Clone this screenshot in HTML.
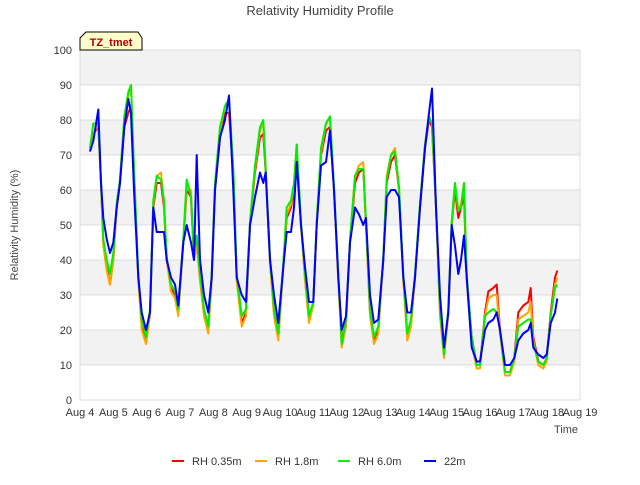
<!DOCTYPE html>
<html><head><meta charset="utf-8"><style>
body{margin:0;background:#fff;font-family:"Liberation Sans",sans-serif}
</style></head><body>
<svg id="chart" width="640" height="480" xmlns="http://www.w3.org/2000/svg" font-family="Liberation Sans, sans-serif">
<rect width="640" height="480" fill="#fff"/>
<g id="bands"></g>
<g id="grid"></g>
<g id="series"></g>
<g id="axes"></g>
<text x="320" y="15" text-anchor="middle" font-size="13" fill="#444">Relativity Humidity Profile</text>
<text x="18" y="225" text-anchor="middle" font-size="11" fill="#444" transform="rotate(-90 18 225)">Relativity Humidity (%)</text>
<text x="566" y="433" text-anchor="middle" font-size="11" fill="#444">Time</text>
<g>
<path d="M80,50 L80,38 L86,32 L138,32 L142,38 L142,50 Z" fill="#ffffcc" stroke="#000" stroke-width="1"/>
<text x="111" y="46" text-anchor="middle" font-size="11" font-weight="bold" fill="#aa0000">TZ_tmet</text>
</g>
<g id="legend"></g>
</svg>
<script>
const times=[0.3,0.4,0.55,0.63,0.7,0.8,0.9,1.0,1.1,1.2,1.33,1.45,1.53,1.62,1.75,1.85,1.98,2.1,2.2,2.3,2.43,2.52,2.6,2.73,2.85,2.95,3.1,3.2,3.33,3.42,3.5,3.6,3.72,3.85,3.95,4.05,4.2,4.35,4.47,4.6,4.7,4.85,4.98,5.1,5.25,5.4,5.5,5.57,5.7,5.82,5.95,6.1,6.2,6.33,6.42,6.5,6.63,6.75,6.87,7.0,7.1,7.23,7.38,7.5,7.62,7.75,7.85,7.98,8.1,8.25,8.37,8.5,8.58,8.7,8.82,8.95,9.1,9.2,9.33,9.45,9.57,9.7,9.82,9.93,10.05,10.2,10.35,10.47,10.56,10.68,10.8,10.92,11.05,11.15,11.25,11.35,11.43,11.52,11.6,11.75,11.9,12.0,12.15,12.25,12.4,12.5,12.6,12.75,12.9,13.03,13.15,13.3,13.45,13.52,13.6,13.75,13.9,14.0,14.12,14.25,14.32];
const rh035=[71,76,78,62,45,38,33,40,55,62,78,82,84,65,35,22,17,25,55,62,62,55,40,32,30,25,45,60,58,40,45,35,25,20,35,60,75,82,82,65,35,22,25,50,65,75,76,65,40,25,18,38,52,55,60,72,50,35,23,28,50,70,77,78,60,35,17,22,45,62,65,66,50,25,17,20,40,62,68,70,60,35,18,22,35,55,72,80,78,55,25,13,25,50,60,52,55,58,35,18,10,10,25,31,32,33,20,8,8,12,25,27,28,32,18,11,10,12,25,35,37];
const rh18=[71,76,79,62,44,37,33,40,56,63,80,87,90,66,34,20,16,24,56,64,65,56,40,31,29,24,45,61,60,40,44,34,24,19,34,61,77,84,85,66,34,21,24,50,66,77,79,66,39,24,17,38,53,56,61,73,50,34,22,27,50,71,79,81,60,34,15,21,45,64,67,68,50,24,16,19,40,64,70,72,60,34,17,21,35,56,73,81,79,55,24,12,24,50,62,54,56,62,34,16,9,9,24,29,30,30,19,7,7,11,23,24,25,28,17,10,9,11,24,33,35];
const rh60=[72,79,79,63,46,40,36,42,56,63,81,88,90,66,36,23,18,26,57,64,63,57,41,33,31,26,46,63,58,42,47,36,26,21,36,62,78,84,86,66,36,24,26,51,67,78,80,66,41,26,19,39,55,57,62,73,51,36,24,28,51,72,79,81,61,36,16,23,46,64,66,66,51,26,18,21,41,63,70,71,61,36,19,23,36,56,73,81,79,56,26,13,26,51,62,54,55,62,36,18,10,10,24,25,26,25,20,8,8,12,21,22,23,23,16,11,10,12,24,32,33];
const rh22=[71,74,83,62,52,46,42,45,55,62,78,86,82,60,35,25,20,25,55,48,48,48,40,35,33,27,45,50,45,40,70,40,30,25,35,60,75,80,87,60,35,30,28,50,58,65,62,65,40,30,22,38,48,48,55,68,50,38,28,28,50,67,68,77,60,35,20,24,45,55,53,50,52,30,22,23,40,58,60,60,58,35,25,25,35,55,72,82,89,55,30,15,25,50,44,36,40,47,35,15,11,11,20,22,23,25,20,10,10,12,17,19,20,22,15,13,12,13,22,25,29];
const seriesNames=["RH 0.35m","RH 1.8m","RH 6.0m","22m"];
const yTicks=[0,10,20,30,40,50,60,70,80,90,100];
const xTickLabels=["Aug 4","Aug 5","Aug 6","Aug 7","Aug 8","Aug 9","Aug 10","Aug 11","Aug 12","Aug 13","Aug 14","Aug 15","Aug 16","Aug 17","Aug 18","Aug 19"];

const NS="http://www.w3.org/2000/svg";
const L=80,R=580,T=50,B=400;
const xs=d=>L+(R-L)*d/15;
const ys=v=>B-(B-T)*v/100;
function mk(tag,attrs,parent){const e=document.createElementNS(NS,tag);for(const k in attrs)e.setAttribute(k,attrs[k]);parent.appendChild(e);return e;}
const bands=document.getElementById('bands'),grid=document.getElementById('grid'),axes=document.getElementById('axes'),ser=document.getElementById('series'),leg=document.getElementById('legend');
mk('rect',{x:L,y:T,width:R-L,height:B-T,fill:'#ffffff'},bands);
for(let i=1;i<yTicks.length-1;i+=2){
  const r=mk('rect',{x:L,y:ys(yTicks[i+1]),width:R-L,height:ys(yTicks[i])-ys(yTicks[i+1]),fill:'#f2f2f2'},bands);
  
  
}
mk('line',{x1:L,x2:L,y1:T,y2:B,stroke:'#dcdcdc','stroke-width':1},grid);
mk('line',{x1:R,x2:R,y1:T,y2:B,stroke:'#dcdcdc','stroke-width':1},grid);
yTicks.forEach(v=>{
  const l=mk('line',{x1:L,x2:R,y1:ys(v),y2:ys(v),stroke:'#dcdcdc','stroke-width':1},grid);
  
  
  const t=mk('text',{x:L-8,y:ys(v)+4,'text-anchor':'end','font-size':11,fill:'#333'},axes);
  t.textContent=v;
  
  
});
xTickLabels.forEach((s,i)=>{
  const t=mk('text',{x:xs(i),y:B+16,'text-anchor':'middle','font-size':11,fill:'#333'},axes);
  t.textContent=s;
  
  
});
const colors=["#ff0000","#ffa500","#00ee00","#0000ff"];
[rh035,rh18,rh60,rh22].forEach((vals,si)=>{
  const d=vals.map((v,i)=>(i?'L':'M')+xs(times[i]).toFixed(1)+','+ys(v).toFixed(1)).join(' ');
  const p=mk('path',{d:d,fill:'none',stroke:colors[si],'stroke-width':2,'stroke-linejoin':'round'},ser);
  
  
});
const lx=[172,255,338,424];
seriesNames.forEach((n,i)=>{
  const g=mk('g',{},leg);
  
  
  mk('line',{x1:lx[i],x2:lx[i]+12,y1:461,y2:461,stroke:colors[i],'stroke-width':2},g);
  const t=mk('text',{x:lx[i]+20,y:465,'font-size':11,fill:'#333'},g);
  t.textContent=n;
});
</script>
</body></html>
